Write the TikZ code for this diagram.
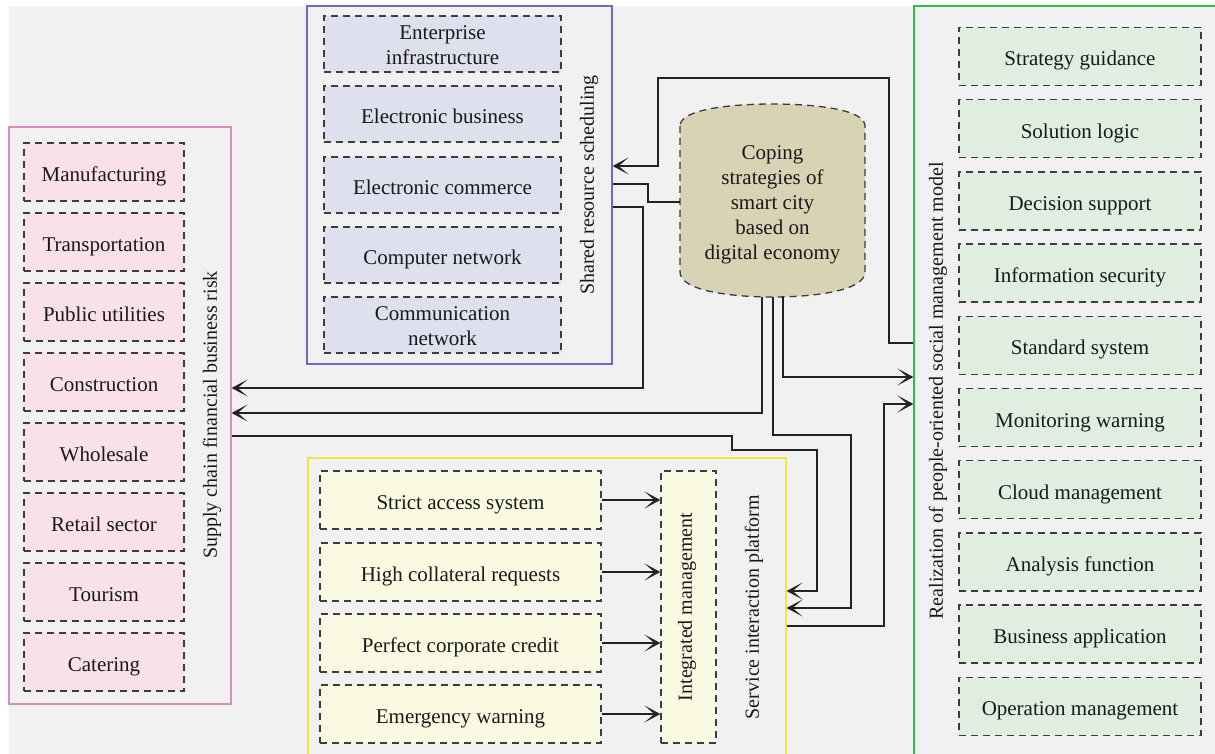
\documentclass[tikz,border=0pt]{standalone}
\usepackage{fontspec}
\setmainfont{Liberation Serif}
\usetikzlibrary{arrows.meta}
\definecolor{bgc}{HTML}{F0F1F0}
\definecolor{pinkc}{HTML}{D98CC0}
\definecolor{pinkf}{HTML}{F9E1EA}
\definecolor{bluec}{HTML}{6B6BBF}
\definecolor{bluef}{HTML}{DFE0EE}
\definecolor{greenc}{HTML}{2DBE4E}
\definecolor{greenf}{HTML}{DFEEE0}
\definecolor{yellowc}{HTML}{F0E640}
\definecolor{yellowf}{HTML}{FAFAE3}
\definecolor{corec}{HTML}{D8D3B5}
\definecolor{dashc}{HTML}{3C3C3C}
\definecolor{linec}{HTML}{222222}
\tikzset{
  frame/.style={draw, line width=1.2pt, fill=none, inner sep=0pt},
  dbox/.style={draw=dashc, line width=1.3pt, dash pattern=on 7pt off 5pt, align=center, inner sep=0pt, text=black!90},
  oneline/.style={text height=19pt, text depth=0pt},
  pbox/.style={dbox, oneline, fill=pinkf, minimum width=160pt, minimum height=58pt},
  bbox/.style={dbox, fill=bluef, minimum width=237pt, minimum height=56pt},
  gbox/.style={dbox, oneline, fill=greenf, minimum width=242pt, minimum height=58pt},
  ybox/.style={dbox, oneline, fill=yellowf, minimum width=281pt, minimum height=58pt},
  lbl/.style={rotate=90, inner sep=0pt, text=black!90, font=\fontsize{20}{24}\selectfont},
  conn/.style={draw=linec, line width=1.3pt},
  arr/.style={conn, -{Stealth[length=16pt, width=17pt, inset=10pt]}}
}
\begin{document}
\begin{tikzpicture}[x=1pt, y=-1pt, font=\fontsize{21}{25}\selectfont]
\useasboundingbox (0,0) rectangle (1215,754);
\clip (0,0) rectangle (1215,754);
\fill[white] (0,0) rectangle (1215,754);
\fill[bgc] (9,6) rectangle (1215,754);

% frames
\node[frame, draw=pinkc, minimum width=222pt, minimum height=577pt] (pinkframe) at (120,415.5) {};
\node[frame, draw=bluec, minimum width=305pt, minimum height=358pt] (blueframe) at (459.5,185) {};
\node[frame, draw=greenc, minimum width=312pt, minimum height=764pt] (greenframe) at (1070,388) {};
\node[frame, draw=yellowc, minimum width=478pt, minimum height=312pt] (yellowframe) at (547,614) {};

% pink boxes
\foreach \t [count=\i] in {Manufacturing, Transportation, Public utilities, Construction, Wholesale, Retail sector, Tourism, Catering}
  \node[pbox] (p\i) at (104,{172+70*(\i-1)}) {\t};
\node[lbl] (plabel) at (212,415) {Supply chain financial business risk};

% blue boxes
\node[bbox] (b1) at (442.5,44) {\rule{0pt}{17pt}Enterprise\\infrastructure};
\node[bbox, oneline] (b2) at (442.5,114) {Electronic business};
\node[bbox, oneline] (b3) at (442.5,185) {Electronic commerce};
\node[bbox, oneline] (b4) at (442.5,255) {Computer network};
\node[bbox] (b5) at (442.5,325) {\rule{0pt}{17pt}Communication\\network};
\node[lbl] (blabel) at (589,185) {Shared resource scheduling};

% green boxes
\foreach \t [count=\i] in {Strategy guidance, Solution logic, Decision support, Information security, Standard system, Monitoring warning, Cloud management, Analysis function, Business application, Operation management}
  \node[gbox] (g\i) at (1080,{56.5+72.2*(\i-1)}) {\t};
\node[lbl] (glabel) at (938,391) {Realization of people-oriented social management model};

% yellow boxes
\node[ybox] (y1) at (460.5,500) {Strict access system};
\node[ybox] (y2) at (460.5,572) {High collateral requests};
\node[ybox] (y3) at (460.5,643) {Perfect corporate credit};
\node[ybox] (y4) at (460.5,714) {Emergency warning};
\node[dbox, fill=yellowf, minimum width=55pt, minimum height=272pt] (integ) at (688.5,607) {};
\node[lbl] (ilabel) at (687,607) {Integrated management};
\node[lbl] (ylabel) at (754,607) {Service interaction platform};
\foreach \i in {1,...,4}
  \draw[arr] (y\i.east) -- (integ.west |- y\i.east);

% core
\filldraw[fill=corec, draw=dashc, line width=1.3pt, dash pattern=on 7pt off 5pt]
  (680,126) -- (680,272) .. controls (680,291) and (732,297) .. (772.5,297)
  .. controls (813,297) and (865,291) .. (865,272) -- (865,126)
  .. controls (865,109) and (813,104) .. (772.5,104)
  .. controls (732,104) and (680,109) .. (680,126) -- cycle;
\node[align=center, minimum width=185pt, minimum height=184pt, inner sep=0pt, text=black!90] (core) at (772.5,205) {Coping\\strategies of\\smart city\\based on\\digital economy};

% connectors
\draw[arr] (greenframe.west |- 0,343) -- (889,343) -- (889,78) -- (658,78) -- (658,166) -- (blueframe.east |- 0,166);
\draw[conn] (core.west |- 0,202) -- (648,202) -- (648,184) -- (blueframe.east |- 0,184);
\draw[arr] (blueframe.east |- 0,207) -- (643,207) -- (643,388) -- (pinkframe.east |- 0,388);
\draw[arr] (core.south -| 762,0) -- (762,413) -- (pinkframe.east |- 0,413);
\draw[arr] (core.south -| 773,0) -- (773,435) -- (851,435) -- (851,608) -- (yellowframe.east |- 0,608);
\draw[arr] (pinkframe.east |- 0,436) -- (732,436) -- (732,450) -- (817,450) -- (817,591) -- (yellowframe.east |- 0,591);
\draw[arr] (yellowframe.east |- 0,626) -- (884,626) -- (884,404) -- (greenframe.west |- 0,404);
\draw[arr] (core.south -| 783,0) -- (783,377) -- (greenframe.west |- 0,377);
\end{tikzpicture}
\end{document}
